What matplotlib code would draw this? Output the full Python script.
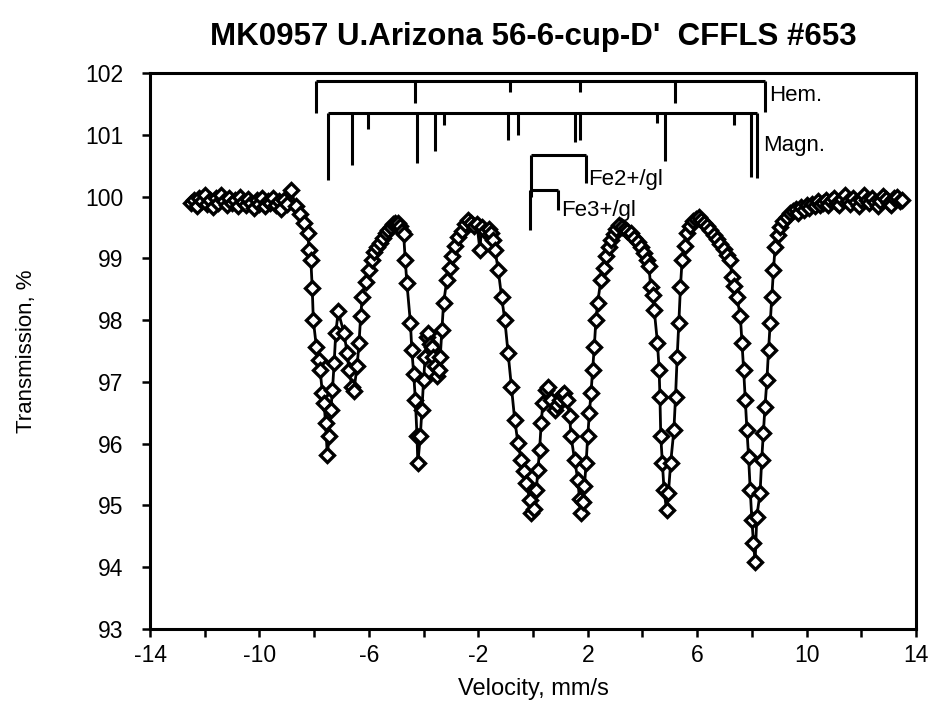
"""Mossbauer spectrum MK0957 (U. Arizona 56-6-cup-D')."""

import matplotlib

matplotlib.use("Agg")
import matplotlib.pyplot as plt

plt.rcParams["font.family"] = ["Liberation Sans", "DejaVu Sans"]

# --- spectrum (velocity in mm/s, transmission in %) ---
velocity = [
    # flat baseline, left
    -12.5, -12.4, -12.3, -12.2, -12.1, -12.0, -11.9, -11.8, -11.7, -11.6,
    -11.5, -11.4, -11.3, -11.2, -11.1, -11.0, -10.9, -10.8, -10.7, -10.6,
    -10.5, -10.4, -10.3, -10.2, -10.1, -10.0, -9.9, -9.8, -9.7, -9.6,
    -9.5, -9.4, -9.3, -9.2, -9.1, -9.0,
    # lines 1 and 2 (-7.5, -6.6)
    -8.85, -8.67, -8.50, -8.36, -8.24, -8.18, -8.12, -8.07, -8.03, -7.92,
    -7.84, -7.78, -7.70, -7.64, -7.58, -7.52, -7.45, -7.39, -7.33, -7.27,
    -7.21, -7.12, -6.91, -6.79, -6.73, -6.61, -6.55, -6.43, -6.36, -6.30,
    -6.24, -6.12, -6.00, -5.90, -5.80, -5.70, -5.60, -5.50, -5.39, -5.30,
    -5.20, -5.10, -5.03, -4.95, -4.85, -4.78, -4.73,
    # lines 3 and 4 (-4.2, -3.5)
    -4.67, -4.61, -4.48, -4.43, -4.36, -4.30, -4.24, -4.21, -4.12, -4.06,
    -4.00, -3.94, -3.88, -3.82, -3.76, -3.70, -3.64, -3.58, -3.52, -3.45,
    -3.39, -3.33, -3.27, -3.15, -3.05, -2.97, -2.85, -2.73, -2.60, -2.48,
    -2.36, -2.25, -2.15, -2.05, -1.94, -1.88, -1.75, -1.62, -1.52, -1.45,
    # central doublet region
    -1.39, -1.27, -1.15, -1.03, -0.91, -0.79, -0.67, -0.55, -0.43, -0.33,
    -0.24, -0.12, -0.06, 0.03, 0.12, 0.18, 0.24, 0.30, 0.36, 0.48,
    0.55, 0.65, 0.79, 0.88, 0.97, 1.06, 1.15, 1.25, 1.34, 1.39,
    1.52, 1.64, 1.70, 1.76, 1.82, 1.88, 1.94, 2.00, 2.06, 2.12,
    2.18, 2.24, 2.30, 2.36, 2.48, 2.58, 2.67, 2.76, 2.85, 2.95,
    3.05, 3.15, 3.25, 3.35, 3.45, 3.58, 3.70, 3.82, 3.94, 4.05,
    # line 5 (4.9)
    4.15, 4.24, 4.30, 4.37, 4.43, 4.55, 4.61, 4.64, 4.67, 4.73,
    4.79, 4.88, 4.95, 5.03, 5.15, 5.21, 5.27, 5.33, 5.39, 5.45,
    5.55, 5.64, 5.75, 5.85, 5.95, 6.06, 6.15, 6.25, 6.37, 6.48,
    6.60, 6.72, 6.85, 6.97, 7.09, 7.21,
    # line 6 (8.1)
    7.27, 7.36, 7.45, 7.58, 7.64, 7.70, 7.76, 7.82, 7.88, 7.94,
    8.00, 8.06, 8.12, 8.18, 8.30, 8.36, 8.42, 8.48, 8.55, 8.61,
    8.67, 8.73, 8.79, 8.85, 8.94, 9.03, 9.15, 9.27, 9.39,
    # flat baseline, right
    9.5, 9.6, 9.7, 9.8, 9.9, 10.0, 10.1, 10.2, 10.3, 10.4,
    10.5, 10.6, 10.7, 10.8, 10.9, 11.0, 11.1, 11.2, 11.3, 11.4,
    11.5, 11.6, 11.7, 11.8, 11.9, 12.0, 12.1, 12.2, 12.3, 12.4,
    12.5, 12.6, 12.7, 12.8, 12.9, 13.0, 13.1, 13.2, 13.3, 13.4,
    13.5,
]
transmission = [
    99.90, 99.95, 99.85, 99.98, 99.92, 100.02, 99.88, 99.95, 99.83, 99.97,
    99.90, 100.03, 99.92, 99.86, 99.98, 99.90, 99.95, 99.84, 99.99, 99.91,
    99.87, 99.96, 99.90, 99.82, 99.94, 99.88, 99.97, 99.85, 99.93, 99.89,
    99.98, 99.86, 99.92, 99.80, 99.95, 99.88,
    100.11, 99.84, 99.72, 99.57, 99.41, 99.14, 98.97, 98.52, 98.00, 97.57,
    97.36, 97.19, 96.82, 96.66, 96.33, 95.82, 96.12, 96.55, 96.87, 97.30,
    97.79, 98.14, 97.79, 97.46, 97.19, 96.92, 96.85, 97.25, 97.63, 98.06,
    98.38, 98.62, 98.81, 98.98, 99.10, 99.19, 99.25, 99.33, 99.41, 99.46,
    99.50, 99.55, 99.57, 99.58, 99.52, 99.45, 99.40,
    98.97, 98.60, 97.95, 97.52, 97.12, 96.71, 96.12, 95.68, 96.12, 96.55,
    97.03, 97.41, 97.73, 97.79, 97.62, 97.57, 97.40, 97.25, 97.09, 97.20,
    97.41, 97.84, 98.27, 98.65, 98.85, 99.03, 99.20, 99.35, 99.45, 99.55,
    99.62, 99.58, 99.52, 99.55, 99.14, 99.51, 99.45, 99.47, 99.41, 99.30,
    99.14, 98.81, 98.38, 98.00, 97.46, 96.92, 96.39, 96.01, 95.74, 95.55,
    95.36, 95.09, 94.88, 94.95, 95.25, 95.58, 95.90, 96.33, 96.66, 96.87,
    96.92, 96.70, 96.55, 96.62, 96.71, 96.78, 96.82, 96.70, 96.44, 96.12,
    95.74, 95.41, 95.10, 94.88, 95.05, 95.31, 95.68, 96.12, 96.49, 96.82,
    97.19, 97.57, 98.00, 98.27, 98.65, 98.85, 99.03, 99.18, 99.30, 99.40,
    99.48, 99.54, 99.50, 99.47, 99.44, 99.41, 99.33, 99.26, 99.19, 99.08,
    98.97, 98.87, 98.54, 98.40, 98.17, 97.63, 97.19, 96.76, 96.12, 95.68,
    95.25, 94.93, 95.20, 95.68, 96.22, 96.76, 97.41, 97.95, 98.54, 98.97,
    99.20, 99.41, 99.52, 99.60, 99.64, 99.67, 99.62, 99.57, 99.52, 99.46,
    99.38, 99.32, 99.24, 99.15, 99.05, 98.97,
    98.70, 98.55, 98.38, 98.06, 97.63, 97.19, 96.71, 96.22, 95.79, 95.25,
    94.77, 94.39, 94.09, 94.82, 95.20, 95.74, 96.17, 96.60, 97.03, 97.52,
    97.95, 98.38, 98.81, 99.19, 99.38, 99.51, 99.60, 99.67, 99.73,
    99.76, 99.80, 99.74, 99.83, 99.79, 99.86, 99.82, 99.88, 99.84, 99.92,
    99.86, 99.90, 99.95, 99.87, 99.93, 99.98, 99.90, 99.86, 99.96, 100.02,
    99.92, 99.88, 99.97, 99.91, 99.85, 99.94, 100.03, 99.95, 99.89, 99.97,
    99.91, 99.84, 99.93, 100.01, 99.96, 99.90, 99.87, 99.98, 100.00, 99.93,
    99.95,
]

# --- stick diagrams of the fitted components ---
hem_level = 101.875
hem_lines = [-7.94, -4.33, -0.85, 1.70, 5.20, 8.47]
hem_drops = [0.52, 0.36, 0.19, 0.19, 0.36, 0.50]

magn_level = 101.35
magn_lines = [-7.48, -6.63, -6.03, -4.24, -3.57, -3.27, -0.93, -0.55,
              1.52, 1.70, 4.52, 4.83, 7.36, 7.96, 8.18]
magn_drops = [1.08, 0.84, 0.26, 0.80, 0.62, 0.19, 0.43, 0.35,
              0.46, 0.43, 0.16, 0.78, 0.19, 1.03, 1.05]

fe2_level = 100.67
fe2_lines = [-0.06, 1.94]
fe2_drops = [0.67, 0.45]

fe3_level = 100.11
fe3_lines = [-0.12, 0.91]
fe3_drops = [0.65, 0.33]

components = [
    ("Hem.", hem_level, hem_lines, hem_drops, (8.62, 101.64)),
    ("Magn.", magn_level, magn_lines, magn_drops, (8.40, 100.83)),
    ("Fe2+/gl", fe2_level, fe2_lines, fe2_drops, (2.00, 100.27)),
    ("Fe3+/gl", fe3_level, fe3_lines, fe3_drops, (1.02, 99.78)),
]

x_ticks = list(range(-14, 15, 2))
x_labels = [str(t) if (t + 14) % 4 == 0 else "" for t in x_ticks]
y_ticks = list(range(93, 103))


def draw_sticks(ax, level, lines, drops):
    ax.plot([min(lines), max(lines)], [level, level], color="black", lw=2.2,
            solid_capstyle="butt")
    for pos, drop in zip(lines, drops):
        ax.plot([pos, pos], [level, level - drop], color="black", lw=2.2,
                solid_capstyle="butt")


def main():
    fig = plt.figure(figsize=(9.31, 7.02), dpi=100)
    ax = fig.add_axes([150 / 931, 1 - 629 / 702, 766 / 931, 556 / 702])

    ax.plot(velocity, transmission, color="black", lw=2.0, marker="D",
            markersize=7, markerfacecolor="white", markeredgecolor="black",
            markeredgewidth=2.4)

    for label, level, lines, drops, text_pos in components:
        draw_sticks(ax, level, lines, drops)
        ax.text(text_pos[0], text_pos[1], label, fontsize=16, ha="left",
                va="center")

    ax.set_xlim(-14, 14)
    ax.set_ylim(93, 102)
    ax.set_xticks(x_ticks)
    ax.set_xticklabels(x_labels)
    ax.set_yticks(y_ticks)
    ax.tick_params(direction="out", length=6, width=1.8, labelsize=16.5, pad=5)
    ax.tick_params(axis="y", pad=13)
    for spine in ax.spines.values():
        spine.set_linewidth(2.2)

    ax.set_title("MK0957 U.Arizona 56-6-cup-D'  CFFLS #653", fontsize=22.5,
                 fontweight="bold", pad=20)
    ax.set_xlabel("Velocity, mm/s", fontsize=17)
    ax.xaxis.set_label_coords(0.5, -0.088)
    ax.set_ylabel("Transmission, %", fontsize=16)
    ax.yaxis.set_label_coords(-0.148, 0.5)

    fig.savefig("out.png", dpi=100)


if __name__ == "__main__":
    main()
